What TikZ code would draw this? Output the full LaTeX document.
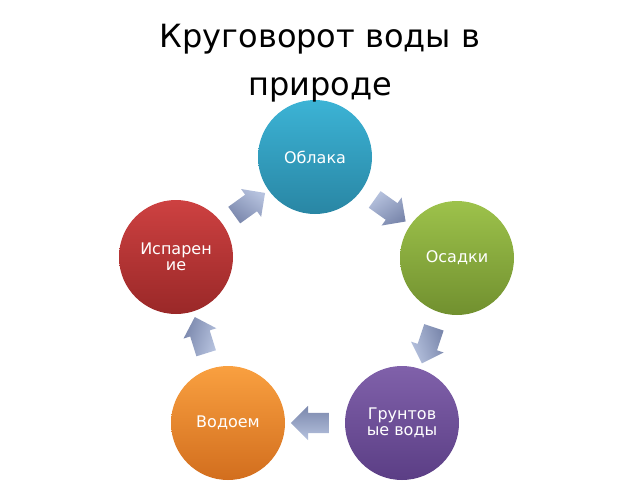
\documentclass[tikz,border=0pt]{standalone}
\usepackage{fontspec}
\setmainfont{DejaVu Sans}
\usetikzlibrary{shapes.arrows}
\definecolor{cloudTop}{HTML}{3CB3D5}
\definecolor{cloudBot}{HTML}{2986A4}
\definecolor{rainTop}{HTML}{9DC24B}
\definecolor{rainBot}{HTML}{71902F}
\definecolor{soilTop}{HTML}{8061AA}
\definecolor{soilBot}{HTML}{5B3E85}
\definecolor{lakeTop}{HTML}{F9A040}
\definecolor{lakeBot}{HTML}{D26E1E}
\definecolor{evapTop}{HTML}{CD4141}
\definecolor{evapBot}{HTML}{9A2828}
\definecolor{arrTop}{HTML}{B6C2DE}
\definecolor{arrBot}{HTML}{7A87AC}
\tikzset{
	stage/.style={circle, minimum size=114pt, inner sep=0pt, text=white, align=center, font=\fontsize{16}{16.5}\selectfont},
	cyclearrow/.style={single arrow, minimum height=38pt, inner xsep=0pt, inner ysep=10pt, single arrow head extend=7pt, sloped, allow upside down, top color=arrTop, bottom color=arrBot}
}
\begin{document}
\begin{tikzpicture}[x=1pt,y=-1pt]
	\useasboundingbox (0,0) rectangle (640,480);
	\node[stage, top color=cloudTop, bottom color=cloudBot] (clouds) at (315,157) {Облака};
	\node[stage, top color=rainTop, bottom color=rainBot] (rain) at (457,258) {Осадки};
	\node[stage, top color=soilTop, bottom color=soilBot] (ground) at (402,423) {Грунтов\\ые воды};
	\node[stage, top color=lakeTop, bottom color=lakeBot] (lake) at (228,423) {Водоем};
	\node[stage, top color=evapTop, bottom color=evapBot] (evap) at (176,257) {Испарен\\ие};
	% arrows of the cycle
	\path (evap) -- node[cyclearrow, shading angle=-36] (a1) {} (clouds);
	\path (clouds) -- node[cyclearrow, shading angle=35] (a2) {} (rain);
	\path (rain) -- node[cyclearrow, shading angle=108] (a3) {} (ground);
	\path (ground) -- node[cyclearrow, shading angle=180] (a4) {} (lake);
	\path (lake) -- node[cyclearrow, shading angle=-107] (a5) {} (evap);
	\node[font=\fontsize{32}{48}\selectfont, align=center] (title) at (320,63) {Круговорот воды в\\природе};
\end{tikzpicture}
\end{document}
